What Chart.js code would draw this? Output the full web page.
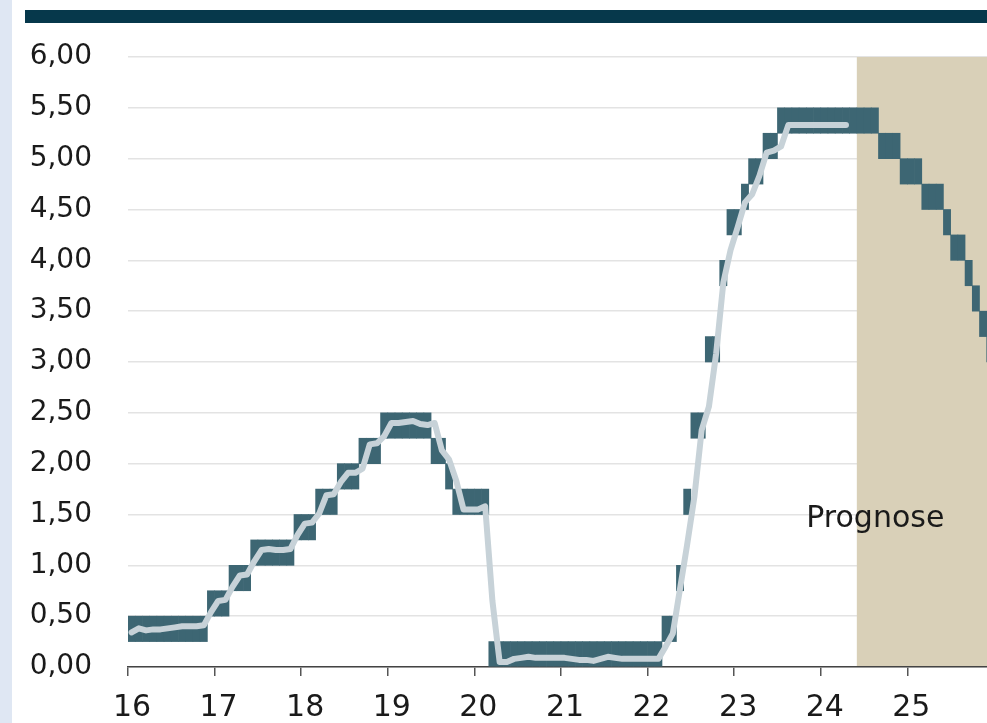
<!DOCTYPE html>
<html><head><meta charset="utf-8">
<script src="https://cdn.jsdelivr.net/npm/chart.js@4/dist/chart.umd.min.js"></script>
<style>html,body{margin:0;padding:0;background:#fff;overflow:hidden}#wrap{position:relative;width:987px;height:723px}</style>
</head><body><div id="wrap"><canvas id="c" width="987" height="723"></canvas></div>
<script>
// Fed funds target range: month in which each range became the month-end value
const rangeStartMonths = ['2016-01','2016-12','2017-03','2017-06','2017-12','2018-03','2018-06','2018-09','2018-12',
  '2019-07','2019-09','2019-10','2020-03','2022-03','2022-05','2022-06','2022-07','2022-09','2022-11','2022-12',
  '2023-02','2023-03','2023-05','2023-07','2024-09','2024-12','2025-03','2025-06','2025-07','2025-09','2025-10','2025-11','2025-12'];
const rangeLower = [0.25,0.50,0.75,1.00,1.25,1.50,1.75,2.00,2.25, 2.00,1.75,1.50,0.00,0.25,0.75,1.50,2.25,3.00,3.75,4.25,
  4.50,4.75,5.00,5.25,5.00,4.75,4.50,4.25,4.00,3.75,3.50,3.25,3.00];
const rangeUpper = [0.50,0.75,1.00,1.25,1.50,1.75,2.00,2.25,2.50, 2.25,2.00,1.75,0.25,0.50,1.00,1.75,2.50,3.25,4.00,4.50,
  4.75,5.00,5.25,5.50,5.25,5.00,4.75,4.50,4.25,4.00,3.75,3.50,3.25];
const rangeEndMonth = '2026-01';

// Effective rate, monthly averages from Jan 2016
const effrStartMonth = '2016-01';
const effrValues = [
  0.34,0.38,0.36,0.37,0.37,0.38,0.39,0.40,0.40,0.40,0.41,0.54,
  0.65,0.66,0.79,0.90,0.91,1.04,1.15,1.16,1.15,1.15,1.16,1.30,
  1.41,1.42,1.51,1.69,1.70,1.82,1.91,1.91,1.95,2.19,2.20,2.27,
  2.40,2.40,2.41,2.42,2.39,2.38,2.40,2.13,2.04,1.83,1.55,1.55,
  1.55,1.58,0.65,0.05,0.05,0.08,0.09,0.10,0.09,0.09,0.09,0.09,
  0.09,0.08,0.07,0.07,0.06,0.08,0.10,0.09,0.08,0.08,0.08,0.08,
  0.08,0.08,0.20,0.33,0.77,1.21,1.68,2.33,2.56,3.08,3.78,4.10,
  4.33,4.57,4.65,4.83,5.06,5.08,5.12,5.33,5.33,5.33,5.33,5.33,
  5.33,5.33,5.33,5.33];

const forecastStartMonth = '2024-06';
const forecastLabel = 'Prognose';
const xTickYears = [16,17,18,19,20,21,22,23,24,25];
const yTickValues = [0,0.5,1,1.5,2,2.5,3,3.5,4,4.5,5,5.5,6];

function monthToX(ym){ const [y,m] = ym.split('-').map(Number); return (y - 2000) + (m - 1) / 12; }
function monthIndex(ym){ const [y,m] = ym.split('-').map(Number); return y * 12 + (m - 1); }

// build monthly floating bars
const bandData = [];
for (let mi = monthIndex(rangeStartMonths[0]); mi < monthIndex(rangeEndMonth); mi++) {
  let k = 0;
  for (let j = 0; j < rangeStartMonths.length; j++) if (monthIndex(rangeStartMonths[j]) <= mi) k = j;
  const x = (Math.floor(mi / 12) - 2000) + (mi % 12) / 12 + 1 / 24;
  bandData.push({x: x, y: [rangeLower[k], rangeUpper[k]]});
}
const effrStart = monthToX(effrStartMonth);
const effrData = effrValues.map((v, i) => ({x: effrStart + i / 12 + 1 / 24, y: v}));

const FONT = '"DejaVu Sans", Verdana, sans-serif';

const decor = {
  id: 'decor',
  beforeDraw(chart) {
    const ctx = chart.ctx;
    ctx.save();
    ctx.fillStyle = '#ffffff';
    ctx.fillRect(0, 0, chart.width, chart.height);
    ctx.fillStyle = '#dfe7f3';
    ctx.fillRect(0, 0, 12, chart.height);
    ctx.fillStyle = '#06384b';
    ctx.fillRect(25, 10, chart.width - 25, 13);
    ctx.restore();
  },
  beforeDatasetsDraw(chart) {
    const {ctx, chartArea, scales} = chart;
    const x0 = scales.x.getPixelForValue(monthToX(forecastStartMonth));
    ctx.save();
    ctx.fillStyle = '#d9d0b8';
    ctx.fillRect(x0, chartArea.top, chartArea.right - x0, chartArea.bottom - chartArea.top - 1);
    ctx.restore();
  },
  afterDatasetsDraw(chart) {
    const {ctx, scales} = chart;
    ctx.save();
    ctx.font = '30px ' + FONT;
    ctx.fillStyle = '#1a1a1a';
    ctx.textAlign = 'center';
    ctx.textBaseline = 'middle';
    ctx.fillText(forecastLabel, scales.x.getPixelForValue(24.63), scales.y.getPixelForValue(1.45));
    ctx.restore();
  }
};

new Chart(document.getElementById('c'), {
  type: 'bar',
  data: {
    datasets: [
      {type: 'line', data: effrData, borderColor: '#c7d2d8', borderWidth: 6, pointRadius: 0,
       tension: 0, borderCapStyle: 'round', borderJoinStyle: 'round', order: 0, clip: 0},
      {type: 'bar', data: bandData, backgroundColor: '#3d6673', borderWidth: 0,
       barPercentage: 1, categoryPercentage: 1, order: 1}
    ]
  },
  options: {
    responsive: false, animation: false, devicePixelRatio: 1,
    layout: {padding: {top: 57, right: 0, left: 0, bottom: 0}},
    plugins: {legend: {display: false}, tooltip: {enabled: false}},
    scales: {
      x: {
        type: 'linear', min: 16, max: 25.92, offset: false,
        afterBuildTicks: s => { s.ticks = xTickYears.map(v => ({value: v})); },
        ticks: {autoSkip: false, maxRotation: 0, includeBounds: false, padding: 14, labelOffset: 4,
          color: '#1a1a1a', font: {family: FONT, size: 30}, callback: v => String(v)},
        grid: {offset: false, drawOnChartArea: false, drawTicks: true, tickLength: 9, color: '#555', lineWidth: 1.5},
        border: {display: true, color: '#444', width: 1.5},
        afterFit: s => { s.height = 56; }
      },
      y: {
        min: 0, max: 6,
        afterBuildTicks: s => { s.ticks = yTickValues.map(v => ({value: v})); },
        ticks: {padding: 36, color: '#1a1a1a', font: {family: FONT, size: 28},
          callback: v => v.toFixed(2).replace('.', ',')},
        grid: {color: '#e3e3e3', lineWidth: 1.5, drawTicks: false},
        border: {display: false},
        afterFit: s => { s.width = 128; }
      }
    }
  },
  plugins: [decor]
});
</script></body></html>
